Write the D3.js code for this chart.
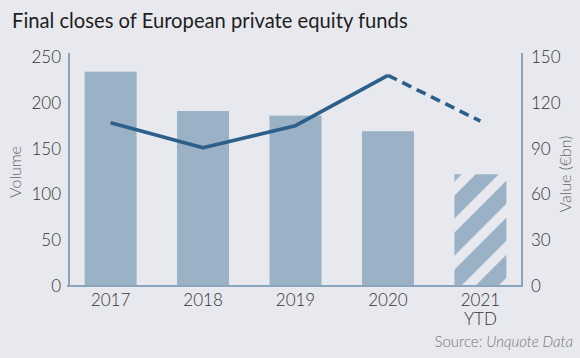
<!DOCTYPE html>
<html><head><meta charset="utf-8">
<script src="https://cdn.jsdelivr.net/npm/d3@7"></script>
<style>
html,body{margin:0;padding:0;background:#e8e9ee;}
svg{display:block;font-family:Lato,"Open Sans",sans-serif;}
</style></head>
<body>
<svg id="c" width="580" height="358"></svg>
<script>
const categories = ["2017","2018","2019","2020","2021 YTD"];
const volume = [234, 191, 186, 169, 122];
const valueBn = [107, 90.5, 105, 138, 108];
const volumeTicks = [0,50,100,150,200,250];
const valueTicks = [0,30,60,90,120,150];

(function(){
const svg = d3.select("#c");
const W = 580, H = 358;
const pL = 69, pR = 522, pT = 57, pB = 286;
const barColor = "#9ab1c6", lineColor = "#2c5f8a", axisColor = "#8aa6bf";

svg.append("rect").attr("width",W).attr("height",H).attr("fill","#e8e9ee");

svg.append("text").attr("x",12).attr("y",28).attr("font-size",20.2).attr("fill","#1e1e1e")
  .text("Final closes of European private equity funds");

const x = d3.scalePoint().domain(categories).range([pL,pR]).padding(0.45);
const yL = d3.scaleLinear().domain([0,250]).range([pB,pT]);
const yR = d3.scaleLinear().domain([0,150]).range([pB,pT]);
const bw = 52;

const defs = svg.append("defs");
const pat = defs.append("pattern").attr("id","hatch").attr("patternUnits","userSpaceOnUse")
  .attr("width",26.2).attr("height",26.2).attr("patternTransform","rotate(45) translate(14.2,0)");
pat.append("rect").attr("x",0).attr("y",0).attr("width",16.3).attr("height",26.2).attr("fill",barColor);

const data = categories.map((c,i)=>({c, v:volume[i], val:valueBn[i], i}));

svg.selectAll("rect.bar").data(data).enter().append("rect").attr("class","bar")
  .attr("x",d=>x(d.c)-bw/2).attr("width",bw)
  .attr("y",d=>yL(d.v)).attr("height",d=>yL(0)-yL(d.v))
  .attr("fill",d=>d.i===4?"url(#hatch)":barColor);

svg.append("line").attr("x1",pL).attr("x2",pL).attr("y1",pT-4).attr("y2",pB).attr("stroke",axisColor).attr("stroke-width",2);
svg.append("line").attr("x1",pR).attr("x2",pR).attr("y1",pT-4).attr("y2",pB).attr("stroke",axisColor).attr("stroke-width",2);
svg.append("line").attr("x1",pL-2).attr("x2",pR+1).attr("y1",pB).attr("y2",pB).attr("stroke",axisColor).attr("stroke-width",2);

const line = d3.line().x(d=>x(d.c)).y(d=>yR(d.val));
svg.append("path").datum(data.slice(0,4)).attr("d",line).attr("fill","none")
  .attr("stroke",lineColor).attr("stroke-width",3.6).attr("stroke-linejoin","round");
svg.append("path").datum(data.slice(3,5)).attr("d",line).attr("fill","none")
  .attr("stroke",lineColor).attr("stroke-width",3.6).attr("stroke-dasharray","10,6");

svg.append("g").selectAll("text").data(volumeTicks).enter().append("text")
  .attr("x",61).attr("y",d=>yL(d)+6).attr("text-anchor","end")
  .attr("font-size",17).attr("font-weight",300).attr("fill","#333").text(d=>d);
svg.append("g").selectAll("text").data(valueTicks).enter().append("text")
  .attr("x",531).attr("y",d=>yR(d)+6).attr("text-anchor","start")
  .attr("font-size",17).attr("font-weight",300).attr("fill","#333").text(d=>d);

svg.append("g").selectAll("text").data(categories).enter().append("text")
  .attr("x",d=>x(d)).attr("y",306).attr("text-anchor","middle")
  .attr("font-size",17).attr("font-weight",300).attr("fill","#333")
  .each(function(d){
    const parts = d.split(" ");
    const t = d3.select(this);
    parts.forEach((p,k)=>t.append("tspan").attr("x",x(d)).attr("dy",k===0?0:19).text(p));
  });

svg.append("text").attr("transform","translate(21,172) rotate(-90)").attr("text-anchor","middle")
  .attr("font-size",16).attr("font-weight",300).attr("fill","#666").text("Volume");
svg.append("text").attr("transform","translate(571,174) rotate(-90)").attr("text-anchor","middle")
  .attr("font-size",16).attr("font-weight",300).attr("fill","#666").text("Value (€bn)");

const src = svg.append("text").attr("x",573).attr("y",347).attr("text-anchor","end")
  .attr("font-size",15).attr("font-weight",300).attr("fill","#777");
src.append("tspan").text("Source: ");
src.append("tspan").attr("font-style","italic").text("Unquote Data");
})();
</script>
</body></html>
